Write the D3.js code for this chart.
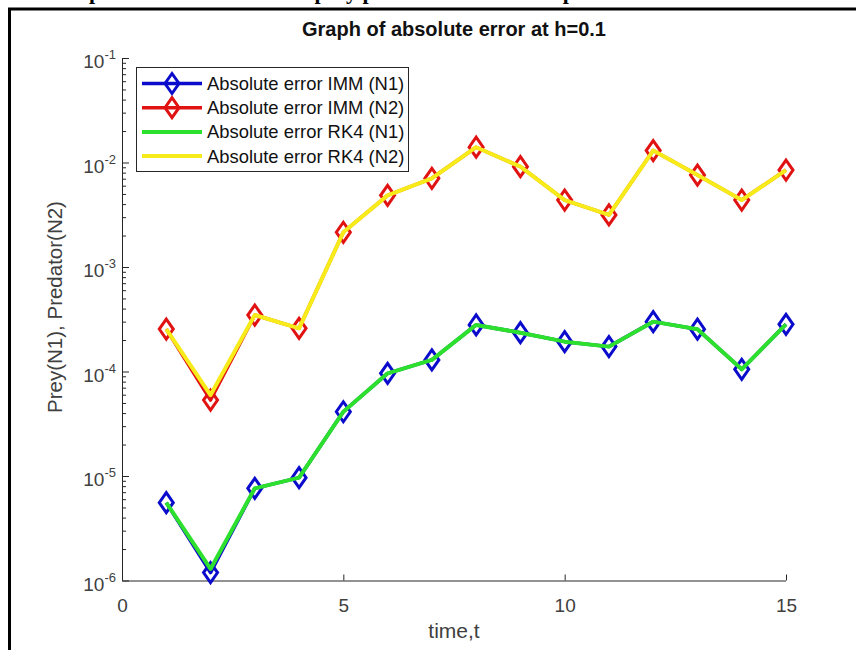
<!DOCTYPE html>
<html>
<head>
<meta charset="utf-8">
<script src="https://cdn.jsdelivr.net/npm/d3@7"></script>
<style>
  body { margin: 0; background: #fff; }
  svg { display: block; }
</style>
</head>
<body>
<div class="svg-container"></div>
<script>
// data
const tValues = [1, 2, 3, 4, 5, 6, 7, 8, 9, 10, 11, 12, 13, 14, 15];
const immN1 = [5.56e-6, 1.19e-6, 7.62e-6, 9.64e-6, 4.12e-5, 9.6e-5, 1.29e-4, 2.79e-4, 2.35e-4, 1.93e-4, 1.73e-4, 3.0e-4, 2.54e-4, 1.05e-4, 2.83e-4];
const immN2 = [2.55e-4, 5.33e-5, 3.47e-4, 2.59e-4, 2.15e-3, 4.85e-3, 7.06e-3, 1.40e-2, 9.12e-3, 4.37e-3, 3.15e-3, 1.30e-2, 7.58e-3, 4.37e-3, 8.47e-3];
const rk4N1 = [5.56e-6, 1.29e-6, 7.62e-6, 9.64e-6, 4.12e-5, 9.6e-5, 1.29e-4, 2.79e-4, 2.35e-4, 1.93e-4, 1.73e-4, 3.0e-4, 2.54e-4, 1.05e-4, 2.83e-4];
const rk4N2 = [2.55e-4, 5.95e-5, 3.47e-4, 2.59e-4, 2.15e-3, 4.85e-3, 7.06e-3, 1.40e-2, 9.12e-3, 4.37e-3, 3.15e-3, 1.30e-2, 7.58e-3, 4.37e-3, 8.47e-3];
const xTicks = [0, 5, 10, 15];
const yTickExps = [-6, -5, -4, -3, -2, -1];
const seriesNames = ["Absolute error IMM (N1)", "Absolute error IMM (N2)", "Absolute error RK4 (N1)", "Absolute error RK4 (N2)"];

const w = 856;
const h = 650;
const axisColor = "#262626";
const labelColor = "#404040";
const font = "'Liberation Sans', Arial, sans-serif";

const series = [
  { name: seriesNames[0], values: immN1, color: "#0b0bcc", width: 3.5, marker: true },
  { name: seriesNames[1], values: immN2, color: "#e01212", width: 3.5, marker: true },
  { name: seriesNames[2], values: rk4N1, color: "#2ee02e", width: 4, marker: false },
  { name: seriesNames[3], values: rk4N2, color: "#f7ec1a", width: 4, marker: false }
];

const xScale = d3.scaleLinear().domain([0, 15]).range([122, 786]);
const yScale = d3.scaleLog().domain([1e-6, 1e-1]).range([580.5, 58]);

const svg = d3.select(".svg-container")
  .append("svg")
  .attr("width", w)
  .attr("height", h);

svg.append("rect").attr("width", w).attr("height", h).attr("fill", "#fff");

// caption of the page, cut off at the top like in the scan
svg.append("text")
  .attr("x", -40)
  .attr("y", -1)
  .attr("font-family", "'Liberation Serif', 'Times New Roman', serif")
  .attr("font-weight", "bold")
  .attr("font-size", 22)
  .text("Figure 4: Graph of absolute error for prey predator model at step size h=0.1");

// frame
svg.append("path")
  .attr("d", "M9.5," + h + " L9.5,9 L" + w + ",9")
  .attr("fill", "none")
  .attr("stroke", "#000")
  .attr("stroke-width", 3);

// title
svg.append("text")
  .attr("x", 454)
  .attr("y", 36)
  .attr("text-anchor", "middle")
  .attr("font-family", font)
  .attr("font-weight", "bold")
  .attr("font-size", 20)
  .attr("fill", "#111")
  .text("Graph of absolute error at h=0.1");

// AXES
const xAxis = d3.axisBottom(xScale)
  .tickValues(xTicks)
  .tickSize(-6)
  .tickPadding(18)
  .tickFormat(d3.format("d"));

const gx = svg.append("g")
  .attr("transform", "translate(0," + yScale(1e-6) + ")")
  .call(xAxis);
gx.select(".domain").attr("stroke", axisColor).attr("d", "M122.5,0.5H786");
gx.selectAll("line").attr("stroke", axisColor);
gx.selectAll("text")
  .attr("font-family", font)
  .attr("font-size", 19)
  .attr("fill", labelColor);

const minorTicks = [];
yTickExps.slice(0, -1).forEach(e => {
  for (let k = 2; k <= 9; k++) minorTicks.push(k * Math.pow(10, e));
});

const yMinor = svg.append("g")
  .attr("transform", "translate(122,0)")
  .call(d3.axisLeft(yScale).tickValues(minorTicks).tickSize(-4).tickFormat(""));
yMinor.select(".domain").remove();
yMinor.selectAll("line").attr("stroke", axisColor);

const yAxis = d3.axisLeft(yScale)
  .tickValues(yTickExps.map(e => Math.pow(10, e)))
  .tickSize(-7)
  .tickFormat("");
const gy = svg.append("g")
  .attr("transform", "translate(122,0)")
  .call(yAxis);
gy.select(".domain").attr("stroke", axisColor).attr("d", "M0.5,58V580.5");
gy.selectAll("line").attr("stroke", axisColor);

// 10^n labels
const yLab = svg.append("g").selectAll("text")
  .data(yTickExps)
  .enter()
  .append("text")
  .attr("x", 116)
  .attr("y", d => yScale(Math.pow(10, d)) + 10)
  .attr("text-anchor", "end")
  .attr("font-family", font)
  .attr("font-size", 19)
  .attr("fill", labelColor);
yLab.append("tspan").text("10");
yLab.append("tspan")
  .attr("font-size", 13)
  .attr("dy", -9)
  .text(d => d);

// axis labels
svg.append("text")
  .attr("x", 454)
  .attr("y", 638)
  .attr("text-anchor", "middle")
  .attr("font-family", font)
  .attr("font-size", 21)
  .attr("fill", labelColor)
  .text("time,t");

svg.append("text")
  .attr("transform", "translate(62,307) rotate(-90)")
  .attr("text-anchor", "middle")
  .attr("font-family", font)
  .attr("font-size", 20.5)
  .attr("fill", labelColor)
  .text("Prey(N1), Predator(N2)");

// LINES
const line = d3.line()
  .x((d, i) => xScale(tValues[i]))
  .y(d => yScale(d));

const diamond = "M0,-10L7,0L0,10L-7,0Z";

series.forEach(s => {
  svg.append("path")
    .datum(s.values)
    .attr("fill", "none")
    .attr("stroke", s.color)
    .attr("stroke-width", s.width)
    .attr("stroke-linejoin", "round")
    .attr("d", line);
  if (s.marker) {
    svg.append("g").selectAll("path")
      .data(s.values)
      .enter()
      .append("path")
      .attr("transform", (d, i) => "translate(" + xScale(tValues[i]) + "," + yScale(d) + ")")
      .attr("d", diamond)
      .attr("fill", "none")
      .attr("stroke", s.color)
      .attr("stroke-width", 3);
  }
});

// LEGEND
const legend = svg.append("g");
legend.append("rect")
  .attr("x", 136.5)
  .attr("y", 67.5)
  .attr("width", 272)
  .attr("height", 104)
  .attr("fill", "#fff")
  .attr("stroke", axisColor)
  .attr("stroke-width", 1);

const rows = legend.selectAll("g.row")
  .data(series)
  .enter()
  .append("g")
  .attr("class", "row")
  .attr("transform", (d, i) => "translate(0," + (83.5 + i * 24.2) + ")");
rows.append("line")
  .attr("x1", 142).attr("x2", 202)
  .attr("stroke", d => d.color)
  .attr("stroke-width", d => d.width);
rows.filter(d => d.marker)
  .append("path")
  .attr("transform", "translate(172,0)")
  .attr("d", diamond)
  .attr("fill", "none")
  .attr("stroke", d => d.color)
  .attr("stroke-width", 3);
rows.append("text")
  .attr("x", 207)
  .attr("y", 6.5)
  .attr("font-family", font)
  .attr("font-size", 18.4)
  .attr("fill", "#111")
  .text(d => d.name);
</script>
</body>
</html>
